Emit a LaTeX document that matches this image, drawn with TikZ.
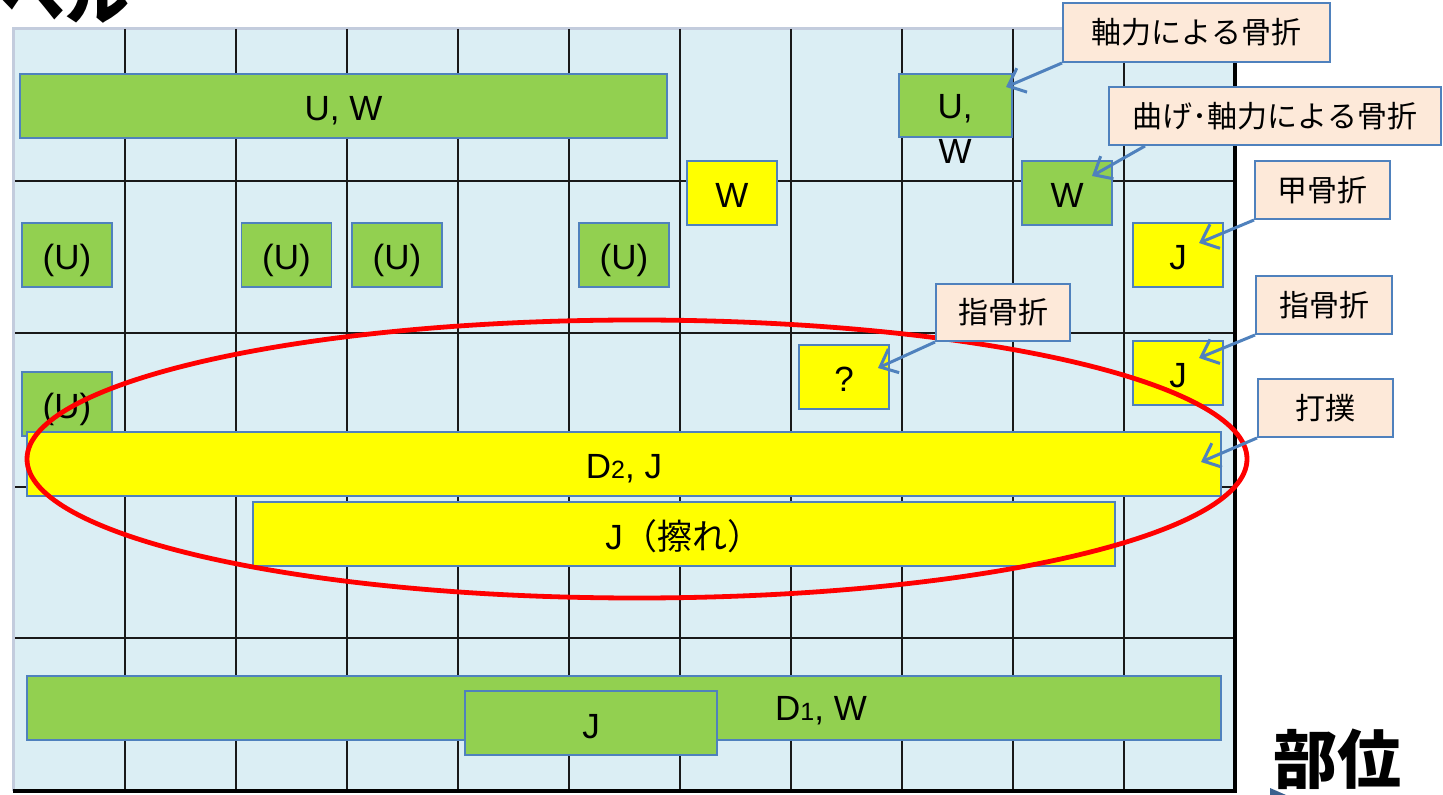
\documentclass[tikz,border=0pt]{standalone}
\usepackage{fontspec}
\setmainfont{Liberation Sans}
\newfontfamily\jp{Noto Sans CJK JP}
\usetikzlibrary{arrows.meta,calc}
\definecolor{bgblue}{HTML}{DBEEF4}
\definecolor{gboxc}{HTML}{92D050}
\definecolor{yboxc}{HTML}{FFFF00}
\definecolor{bord}{HTML}{4F81BD}
\definecolor{peach}{HTML}{FDE9D9}
\definecolor{edgec}{HTML}{C3CCDD}
\tikzset{
  wh/.style n args={2}{minimum width=#1*0.5pt, minimum height=#2*0.5pt},
  box/.style={draw=bord, line width=0.9pt, inner sep=0pt, text height=15pt, text depth=0pt, font=\fontsize{17.5}{21}\selectfont},
  gb/.style={box, fill=gboxc},
  yb/.style={box, fill=yboxc},
  txt/.style={inner sep=0pt, font=\fontsize{17.5}{22.5}\selectfont, align=center},
  call/.style={draw=bord, line width=1pt, fill=peach, inner sep=0pt, font=\jp\fontsize{15}{18}\selectfont},
  callarrow/.style={draw=bord, line width=1.5pt, -{Straight Barb[length=7.5pt,width=13pt,line width=1.5pt]}},
  gridline/.style={line width=1.25pt, color=black!90},
}
\begin{document}
\begin{tikzpicture}[x=0.5pt,y=-0.5pt]
\useasboundingbox (0,0) rectangle (1443,795);
% table background
\fill[bgblue] (13,29) rectangle (1235,791);
\draw[edgec, line width=1.5pt] (13,791) -- (13,29) -- (1235,29);
\foreach \x in {125,236,347,458,569,680,791,902,1013,1124}
  \draw[gridline] (\x,29) -- (\x,791);
\foreach \y in {181,333,487,638}
  \draw[gridline] (15,\y) -- (1235,\y);
\draw[black, line width=1.6pt] (1235,29) -- (1235,791) -- (13,791);
% cut title
\node[font=\jp\bfseries\fontsize{32}{36}\selectfont, anchor=base east, inner sep=0pt] (lvl) at (130,20) {ベル};
% boxes
\node[gb, wh={647}{64}] (uw) at (343.5,106) {U, W};
\node[gb, wh={113}{63}] (uw2) at (955.5,105.5) {};
\node[txt] (uw2t) at (955,129) {U,\\W};
\node[yb, wh={90}{64}] (wy) at (732,193) {W};
\node[gb, wh={90}{64}] (wg) at (1067,193) {W};
\node[gb, wh={90}{64}] (u1) at (67,255) {(U)};
\node[gb, wh={90}{64}] (u2) at (286.5,255) {(U)};
\node[gb, wh={90}{64}] (u3) at (397,255) {(U)};
\node[gb, wh={90}{64}] (u4) at (624,255) {(U)};
\node[yb, wh={90}{64}] (j1) at (1178,255) {J};
\node[yb, wh={90}{64}] (q) at (844,377) {?};
\node[yb, wh={90}{64}] (j2) at (1178,373) {J};
\node[gb, wh={90}{64}] (u5) at (67,404) {(U)};
\node[yb, wh={1194}{64}] (d2) at (624,464) {D{\fontsize{12.5}{14}\selectfont 2}, J};
\node[yb, wh={862}{64}] (jz) at (684,534) {J{\jp（擦れ）}};
\node[gb, wh={1194}{64}] (d1) at (624,708) {};
\node[txt] (d1t) at (821,711) {D{\fontsize{12.5}{14}\selectfont 1}, W};
\node[gb, wh={252}{64}] (jg) at (591,723) {J};
% red ellipse
\draw[red, line width=2.4pt] (637,459) ellipse [x radius=610, y radius=139];
% callouts
\node[call, wh={267}{59}] (c1) at (1196.5,32.5) {軸力による骨折};
\node[call, wh={332}{58}] (c2) at (1275,116) {曲げ･軸力による骨折};
\node[call, wh={135}{58}] (c3) at (1322.5,190) {甲骨折};
\node[call, wh={134}{57}] (c4) at (1003,312.5) {指骨折};
\node[call, wh={136}{58}] (c5) at (1324,305) {指骨折};
\node[call, wh={135}{58}] (c6) at (1325.5,408) {打撲};
\coordinate (a1) at (1006,87);
\coordinate (a2) at (1092,176);
\coordinate (a3) at (1199,243);
\coordinate (a4) at (878,368);
\coordinate (a5) at (1199,358);
\coordinate (a6) at (1201,462);
\coordinate (s2) at ($(c2.south west)+(37,0)$);
\draw[callarrow] (c1.south west) -- (a1);
\draw[callarrow] (s2) -- (a2);
\draw[callarrow] (c3.south west) -- (a3);
\draw[callarrow] (c4.south west) -- (a4);
\draw[callarrow] (c5.south west) -- (a5);
\draw[callarrow] (c6.south west) -- (a6);
% axis label
\node[font=\jp\bfseries\fontsize{32}{36}\selectfont, inner sep=0pt] (bui) at (1337,759) {部位};
\fill[bord!75!black] (1270,788) -- (1286,795) -- (1270,795) -- cycle;
\end{tikzpicture}
\end{document}
